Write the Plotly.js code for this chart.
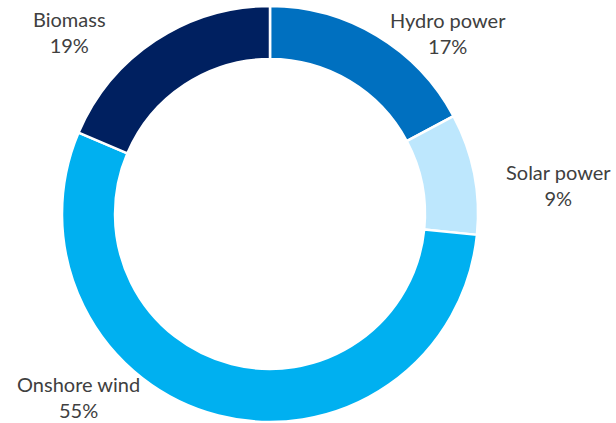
<!DOCTYPE html>
<html>
<head>
<meta charset="utf-8">
<script src="https://cdn.plot.ly/plotly-3.0.1.min.js"></script>
<style>html,body{margin:0;padding:0;background:#fff;}#chart{width:616px;height:423px;}</style>
</head>
<body>
<div id="chart"></div>
<script>
var categories = ["Hydro power", "Solar power", "Onshore wind", "Biomass"];
var shares = [17.2, 9.4, 54.8, 18.6];
var colors = ["#0070C0", "#BDE7FD", "#00B0F0", "#002060"];

// label anchor positions (paper coordinates), one per category
var labelX = [0.727, 0.906, 0.127, 0.1136];
var labelY = [0.922, 0.563, 0.061, 0.924];

var trace = {
  type: "pie",
  labels: categories,
  values: shares,
  hole: 0.745,
  sort: false,
  direction: "clockwise",
  rotation: 0,
  textinfo: "none",
  hoverinfo: "label+percent",
  marker: {colors: colors, line: {color: "#ffffff", width: 2.5}},
  domain: {x: [0.10065, 0.77597], y: [0.00236, 0.98582]},
  showlegend: false
};

var total = shares.reduce(function(a, b){ return a + b; }, 0);
var annotations = categories.map(function(c, i){
  return {
    xref: "paper", yref: "paper",
    x: labelX[i], y: labelY[i],
    xanchor: "center", yanchor: "middle",
    text: c + "<br>" + Math.round(shares[i] / total * 100) + "%",
    showarrow: false,
    align: "center",
    font: {family: "Lato, 'Open Sans', sans-serif", size: 20, color: "#404040"}
  };
});

var layout = {
  width: 616, height: 423,
  margin: {l: 0, r: 0, t: 0, b: 0},
  paper_bgcolor: "#ffffff",
  annotations: annotations
};

Plotly.newPlot("chart", [trace], layout, {displayModeBar: false, staticPlot: true});
</script>
</body>
</html>
